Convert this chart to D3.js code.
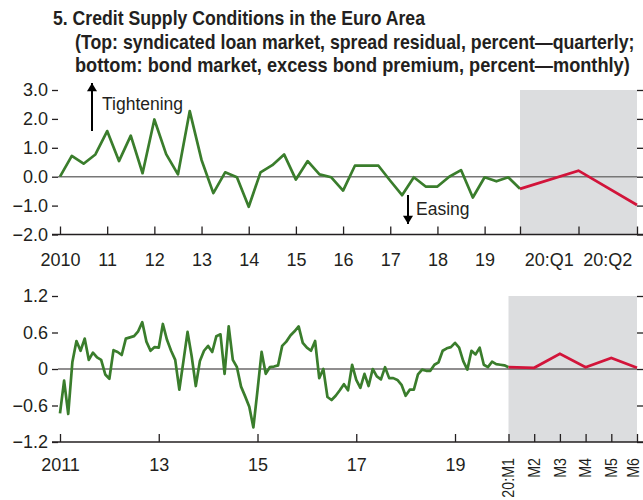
<!DOCTYPE html>
<html>
<head>
<meta charset="utf-8">
<script src="https://cdn.jsdelivr.net/npm/d3@7"></script>
<style>
  body { margin: 0; background: #fff; }
  svg text { font-family: "Liberation Sans", Arial, sans-serif; fill: #231f20; }
</style>
</head>
<body>
<svg width="643" height="500"></svg>
<script>
// top panel: syndicated loan spread residual, quarterly 2010:Q1 - 2019:Q4
var loanSpread = [0.0, 0.72, 0.45, 0.77,
  1.58, 0.54, 1.42, 0.12,
  1.98, 0.78, 0.08, 2.27,
  0.58, -0.57, 0.15, -0.02,
  -1.04, 0.15, 0.40, 0.77,
  -0.10, 0.54, 0.08, -0.02,
  -0.48, 0.38, 0.38, 0.38,
  -0.14, -0.64, -0.02, -0.34,
  -0.34, 0.0, 0.23, -0.72,
  -0.02, -0.16, -0.02, -0.42];
var loanForecast = [-0.42, 0.21, -0.98]; // 2019:Q4, 20:Q1, 20:Q2
var yearLabels = ["2010", "11", "12", "13", "14", "15", "16", "17", "18", "19"];
var quarterLabels = ["20:Q1", "20:Q2"];
var loanTicks = [3, 2, 1, 0, -1, -2];

// bottom panel: excess bond premium, monthly from 2011:M1
var bondPremium = [-0.73, -0.19, -0.74, 0.11, 0.46, 0.30, 0.50, 0.15, 0.27, 0.19, 0.15, -0.09,
  -0.16, 0.31, 0.28, 0.23, 0.50, 0.52, 0.54, 0.62, 0.77, 0.45, 0.30, 0.36,
  0.35, 0.74, 0.48, 0.30, 0.15, -0.34, 0.13, 0.61, 0.21, -0.28, 0.13, 0.30,
  0.38, 0.28, 0.54, 0.57, -0.08, 0.70, 0.15, 0.03, -0.29, -0.45, -0.62, -0.96,
  -0.35, 0.28, -0.08, 0.03, 0.04, 0.06, 0.38, 0.45, 0.55, 0.62, 0.70, 0.43,
  0.35, 0.30, 0.46, -0.15, 0.00, -0.46, -0.51, -0.44, -0.35, -0.25, -0.35, 0.07,
  -0.18, -0.31, -0.08, -0.28, 0.00, -0.12, -0.17, 0.03, -0.15, -0.15, -0.18, -0.26,
  -0.44, -0.34, -0.34, -0.09, -0.01, -0.03, -0.03, 0.07, 0.11, 0.30, 0.34, 0.36,
  0.43, 0.35, 0.13, -0.01, 0.30, 0.24, 0.35, 0.07, 0.03, 0.12, 0.08, 0.07,
  0.06, 0.03];
var bondForecast = [0.03, 0.02, 0.25, 0.03, 0.18, 0.02]; // 20:M1 - M6
var bondYearLabels = ["2011", "13", "15", "17", "19"];
var monthLabels = ["20:M1", "M2", "M3", "M4", "M5", "M6"];
var bondTicks = [1.2, 0.6, 0, -0.6, -1.2];

var green = "#3a7d2c", red = "#d2143a", shade = "#dcdddf";
var svg = d3.select("svg");

// title, squeezed horizontally to the condensed look of the original
var titleLines = [
  {text: "5. Credit Supply Conditions in the Euro Area", x: 53, y: 25, w: 372},
  {text: "(Top: syndicated loan market, spread residual, percent\u2014quarterly;", x: 75, y: 49, w: 560},
  {text: "bottom: bond market, excess bond premium, percent\u2014monthly)", x: 75, y: 72, w: 555}
];
svg.selectAll(".title")
  .data(titleLines)
  .enter().append("text")
  .attr("class", "title")
  .attr("font-weight", "bold").attr("font-size", 20)
  .text(function(d) { return d.text; })
  .attr("transform", function(d) {
    var k = d.w / this.getComputedTextLength();
    return "translate(" + d.x + "," + d.y + ") scale(" + k + ",1)";
  });

function minus(s) { return s.replace("-", "\u2013"); }

// ---------- top panel ----------
var n1 = loanSpread.length;
var xTop = d3.scaleLinear().domain([0, n1 - 1, n1 + 1]).range([60, 520, 637]);
var yTop = d3.scaleLinear().domain([-2, 3]).range([234.5, 90]);

svg.append("rect")
  .attr("x", xTop(n1 - 1)).attr("y", yTop(3))
  .attr("width", xTop(n1 + 1) - xTop(n1 - 1)).attr("height", yTop(-2) - yTop(3))
  .attr("fill", shade);

var topG = svg.append("g");
topG.append("line")
  .attr("x1", 58).attr("x2", 637).attr("y1", yTop(0)).attr("y2", yTop(0))
  .attr("stroke", "#777").attr("stroke-width", 1.5);

topG.append("g").attr("transform", "translate(58,0)")
  .call(d3.axisLeft(yTop).tickValues(loanTicks).tickSize(6).tickPadding(4)
    .tickFormat(function(d) { return minus(d3.format(".1f")(d)); }));
topG.append("g").attr("transform", "translate(637,0)")
  .call(d3.axisRight(yTop).tickValues(loanTicks).tickSize(7).tickFormat(""));

var topTickIdx = d3.range(0, 40, 4).concat([n1 - 1, n1, n1 + 1]);
topG.append("g").attr("transform", "translate(0," + yTop(-2) + ")")
  .call(d3.axisBottom(xTop).tickValues(topTickIdx).tickSize(-8).tickPadding(19)
    .tickFormat(function(d) { return d % 4 == 0 && d < 40 ? yearLabels[d / 4] : ""; }));
topG.append("line")
  .attr("x1", 52).attr("x2", 643).attr("y1", yTop(-2)).attr("y2", yTop(-2))
  .attr("stroke", "#231f20").attr("stroke-width", 1.5);

topG.selectAll(".qlab")
  .data(quarterLabels)
  .enter().append("text")
  .attr("class", "qlab")
  .attr("x", function(d, i) { return xTop(n1 - 0.5 + i); })
  .attr("y", yTop(-2) + 19).attr("dy", "0.71em")
  .attr("text-anchor", "middle").attr("font-size", 18)
  .text(function(d) { return d; });

var line1 = d3.line().x(function(d, i) { return xTop(i); }).y(function(d) { return yTop(d); });
topG.append("path").datum(loanSpread)
  .attr("d", line1).attr("fill", "none")
  .attr("stroke", green).attr("stroke-width", 2.7).attr("stroke-linejoin", "round");
topG.append("path").datum(loanForecast)
  .attr("d", d3.line().x(function(d, i) { return xTop(n1 - 1 + i); }).y(function(d) { return yTop(d); }))
  .attr("fill", "none").attr("stroke", red).attr("stroke-width", 2.7);

// annotations
svg.append("defs").append("marker")
  .attr("id", "head").attr("viewBox", "0 0 10 12").attr("refX", 10).attr("refY", 6)
  .attr("markerUnits", "userSpaceOnUse")
  .attr("markerWidth", 12).attr("markerHeight", 10).attr("orient", "auto")
  .append("path").attr("d", "M0,0L10,6L0,12Z").attr("fill", "#000");
topG.append("line").attr("x1", 92).attr("x2", 92).attr("y1", 131).attr("y2", 83)
  .attr("stroke", "#000").attr("stroke-width", 2).attr("marker-end", "url(#head)");
topG.append("text").attr("x", 102).attr("y", 110).attr("font-size", 17.5).text("Tightening");
topG.append("line").attr("x1", 408).attr("x2", 408).attr("y1", 195).attr("y2", 224)
  .attr("stroke", "#000").attr("stroke-width", 2).attr("marker-end", "url(#head)");
topG.append("text").attr("x", 416).attr("y", 215).attr("font-size", 17.5).text("Easing");

// ---------- bottom panel ----------
var n2 = bondPremium.length;
var xBot = d3.scaleLinear().domain([0, n2 - 1, n2 - 1 + 5]).range([60, 508.5, 637]);
var yBot = d3.scaleLinear().domain([-1.2, 1.2]).range([442, 296]);

svg.append("rect")
  .attr("x", xBot(n2 - 1)).attr("y", yBot(1.2))
  .attr("width", xBot(n2 + 4) - xBot(n2 - 1)).attr("height", yBot(-1.2) - yBot(1.2))
  .attr("fill", shade);

var bot = svg.append("g");
bot.append("line")
  .attr("x1", 58).attr("x2", 637).attr("y1", yBot(0)).attr("y2", yBot(0))
  .attr("stroke", "#231f20").attr("stroke-width", 1.2);

bot.append("g").attr("transform", "translate(58,0)")
  .call(d3.axisLeft(yBot).tickValues(bondTicks).tickSize(6).tickPadding(4)
    .tickFormat(function(d) { return d == 0 ? "0" : minus(d3.format(".1f")(d)); }));
bot.append("g").attr("transform", "translate(637,0)")
  .call(d3.axisRight(yBot).tickValues(bondTicks).tickSize(7).tickFormat(""));

var botTickIdx = d3.range(0, 97, 24).concat(d3.range(n2 - 1, n2 + 5));
bot.append("g").attr("transform", "translate(0," + yBot(-1.2) + ")")
  .call(d3.axisBottom(xBot).tickValues(botTickIdx).tickSize(-8).tickPadding(16)
    .tickFormat(function(d) { return d % 24 == 0 && d <= 96 ? bondYearLabels[d / 24] : ""; }));
bot.append("line")
  .attr("x1", 52).attr("x2", 643).attr("y1", yBot(-1.2)).attr("y2", yBot(-1.2))
  .attr("stroke", "#231f20").attr("stroke-width", 1.5);

// rotated month labels, squeezed along their length like the condensed original
bot.selectAll(".mlab")
  .data(monthLabels)
  .enter().append("text")
  .attr("class", "mlab")
  .attr("dy", "0.33em").attr("text-anchor", "end").attr("font-size", 17)
  .text(function(d) { return d; })
  .attr("transform", function(d, i) {
    return "translate(" + (xBot(n2 - 1 + i) - (i == 5 ? 4 : 0)) + "," + (yBot(-1.2) + 16) + ") rotate(-90) scale(0.84,1)";
  });

bot.append("path").datum(bondPremium)
  .attr("d", d3.line().x(function(d, i) { return xBot(i); }).y(function(d) { return yBot(d); }))
  .attr("fill", "none").attr("stroke", green).attr("stroke-width", 2.7).attr("stroke-linejoin", "round");
bot.append("path").datum(bondForecast)
  .attr("d", d3.line().x(function(d, i) { return xBot(n2 - 1 + i); }).y(function(d) { return yBot(d); }))
  .attr("fill", "none").attr("stroke", red).attr("stroke-width", 2.7);

// axis styling
svg.selectAll(".tick text").attr("font-size", 18).attr("fill", "#231f20")
  .style("font-family", "'Liberation Sans', Arial, sans-serif");
svg.selectAll(".tick line").attr("stroke", "#231f20").attr("stroke-width", 1.3);
svg.selectAll(".domain").remove();
</script>
</body>
</html>
